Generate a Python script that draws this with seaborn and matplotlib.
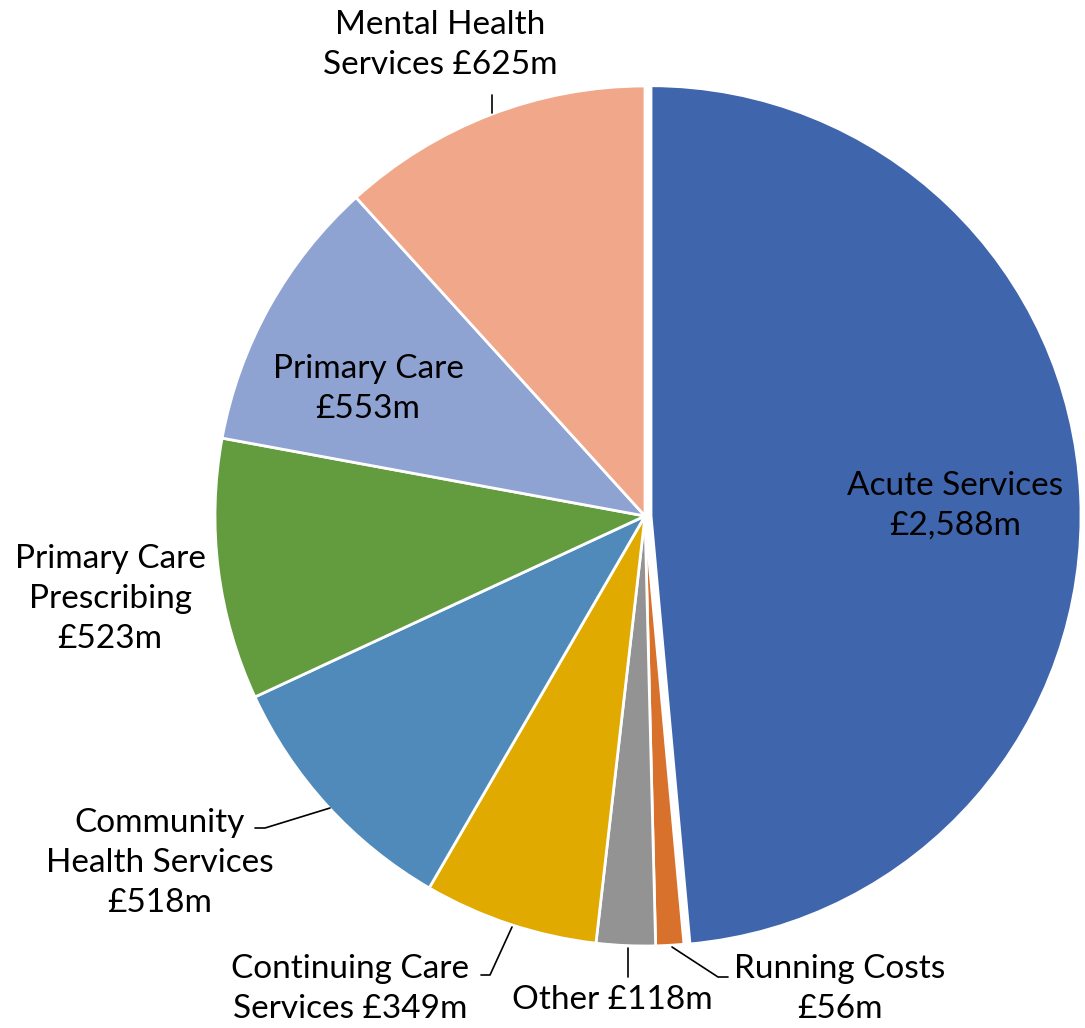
import matplotlib
matplotlib.use("Agg")
import matplotlib.pyplot as plt
import seaborn as sns

# spend by category, clockwise from 12 o'clock
categories = ["Acute Services", "Running Costs", "Other", "Continuing Care Services",
              "Community Health Services", "Primary Care Prescribing", "Primary Care",
              "Mental Health Services"]
spend = [2588, 56, 118, 349, 518, 523, 553, 625]
label_text = ["Acute Services\n£2,588m", "Running Costs\n£56m", "Other £118m",
              "Continuing Care\nServices £349m", "Community\nHealth Services\n£518m",
              "Primary Care\nPrescribing\n£523m", "Primary Care\n£553m",
              "Mental Health\nServices £625m"]
colours = ["#3F65AD", "#D8712B", "#939393", "#E1AA00", "#4F8ABB", "#639B3F",
           "#8FA3D3", "#F0A78A"]

sns.set_theme(style="white")
plt.rcParams['font.family'] = ['Lato', 'DejaVu Sans']

W, H = 1085, 1028
cx, cy, R = 645, 516, 430

fig = plt.figure(figsize=(W / 100, H / 100), dpi=100)
ax = fig.add_axes([0, 0, 1, 1])

explode = [0.014] + [0] * (len(spend) - 1)
ax.pie(spend, colors=colours, startangle=90, counterclock=False, explode=explode,
       radius=1, center=(0, 0),
       wedgeprops=dict(edgecolor="white", linewidth=2))

# pie() resets the limits, so set them afterwards
ax.set_xlim(-cx / R, (W - cx) / R)
ax.set_ylim(-(H - cy) / R, cy / R)
ax.set_aspect("equal")
ax.axis("off")


def px(x, y):
    return ((x - cx) / R, (cy - y) / R)


fs = 24
# label centres in pixel space (style only)
label_pos = {
    "Acute Services": (955, 506),
    "Running Costs": (840, 989),
    "Other": (612, 1000),
    "Continuing Care Services": (350, 989),
    "Community Health Services": (160, 863),
    "Primary Care Prescribing": (110, 599),
    "Primary Care": (368, 389),
    "Mental Health Services": (440, 45),
}
for name, txt in zip(categories, label_text):
    x, y = px(*label_pos[name])
    ax.text(x, y, txt, ha="center", va="center", fontsize=fs, color="black",
            linespacing=1.4)

# leader lines
leaders = [
    [(672, 947), (718, 977), (728, 977)],
    [(628, 948), (628, 977)],
    [(512, 927), (490, 975), (481, 975)],
    [(330, 808), (265, 828), (255, 828)],
    [(492, 95), (492, 113)],
]
for pts in leaders:
    xs, ys = zip(*[px(a, b) for a, b in pts])
    ax.plot(xs, ys, color="black", linewidth=1.2)

fig.savefig("out.png", dpi=100)
